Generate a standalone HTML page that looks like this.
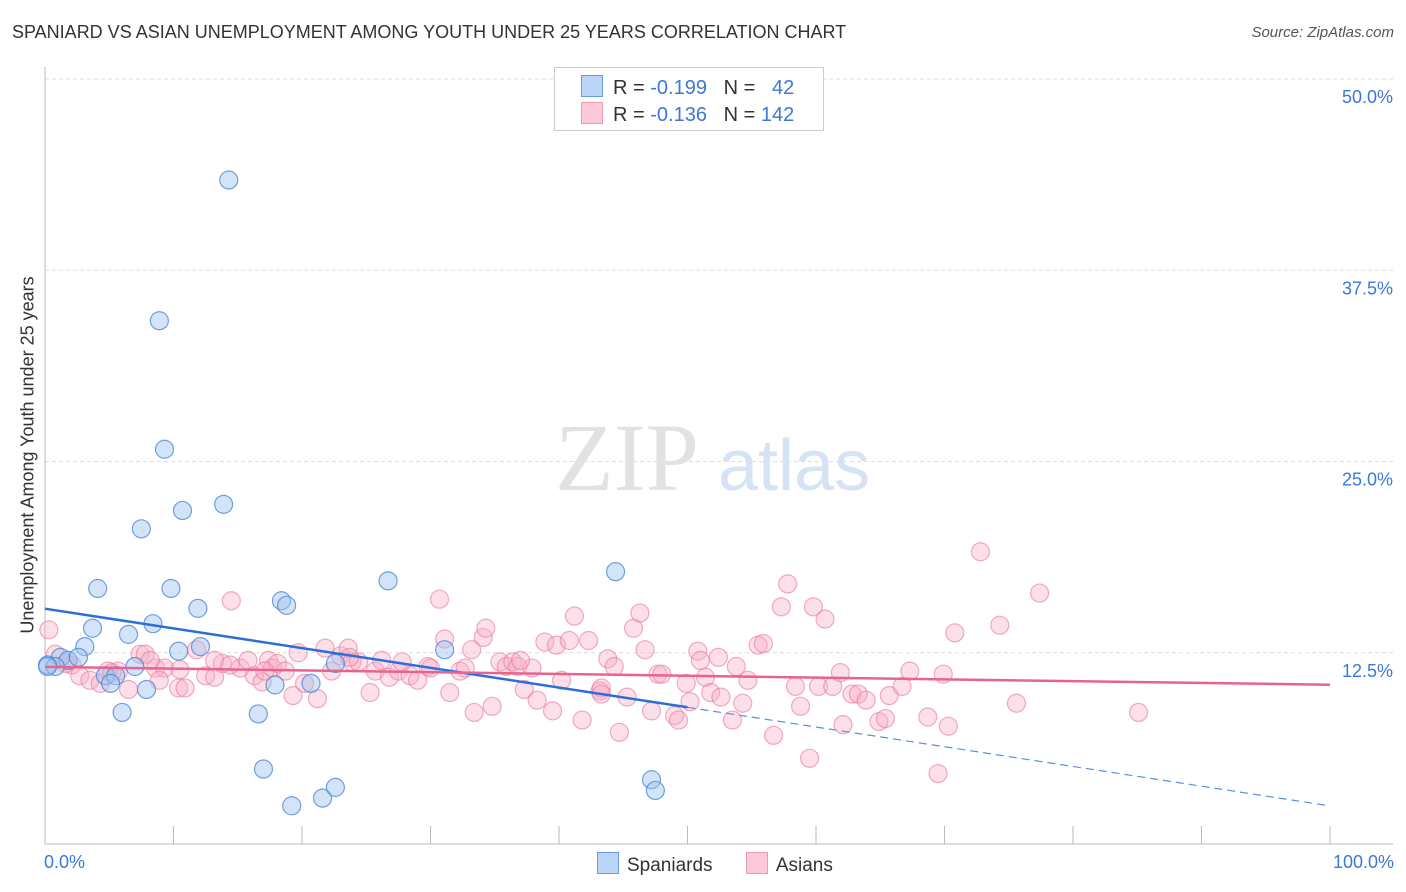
<!DOCTYPE html>
<html><head><meta charset="utf-8"><style>
body{margin:0;background:#fff;font-family:"Liberation Sans",sans-serif;}
#wrap{position:relative;width:1406px;height:892px;overflow:hidden;}
.t{position:absolute;white-space:nowrap;}
</style></head><body>
<div id="wrap">
<div class="t" style="left:12px;top:22px;font-size:18px;color:#333;">SPANIARD VS ASIAN UNEMPLOYMENT AMONG YOUTH UNDER 25 YEARS CORRELATION CHART</div>
<div class="t" style="right:12px;top:24px;font-size:15px;color:#555;font-style:italic;">Source: ZipAtlas.com</div>
<svg id="svg" width="1406" height="892" style="position:absolute;left:0;top:0"></svg>
</div>
<script>
const blueX=[14.3,8.9,9.3,7.5,10.7,13.9,4.1,9.8,11.9,18.4,18.8,26.7,44.4,8.4,3.7,6.5,12.1,3.1,10.4,1.2,1.8,2.6,0.2,0.8,4.7,5.5,7.0,5.1,17.9,20.7,22.6,31.1,7.9,6.0,16.6,17.0,19.2,21.6,22.6,47.2,47.5,0.2];
const blueY=[43.4,34.2,25.8,20.6,21.8,22.2,16.7,16.7,15.4,15.9,15.6,17.2,17.8,14.4,14.1,13.7,12.9,12.9,12.6,12.2,12.0,12.2,11.7,11.6,11.0,11.0,11.6,10.5,10.4,10.5,11.8,12.7,10.1,8.6,8.5,4.9,2.5,3.0,3.7,4.2,3.5,11.6];
const pinkX=[0.3,0.8,2.1,2.7,3.5,4.3,4.9,5.7,6.5,7.4,
7.8,8.6,9.3,8.9,10.4,10.9,11.8,12.5,13.2,13.8,
14.5,15.2,15.8,16.3,16.9,17.4,17.7,18.1,18.7,19.3,
19.7,20.2,21.2,21.8,22.3,23.0,23.6,23.9,24.4,25.3,
25.7,26.2,26.8,27.5,27.8,28.4,29.0,29.8,30.7,31.1,
31.5,32.3,32.7,33.4,34.1,34.3,34.8,35.4,35.9,36.4,
36.8,37.3,37.9,38.3,38.9,39.5,39.8,40.2,40.8,41.2,
41.8,42.3,43.2,43.3,43.8,44.3,44.7,45.3,45.8,46.3,
46.7,47.2,47.7,48.0,49.0,49.3,49.9,50.2,50.8,51.4,
51.8,52.4,52.6,53.5,53.8,54.3,54.7,55.5,55.9,56.7,
57.3,57.8,58.4,58.8,59.8,60.2,60.7,61.3,61.9,62.1,
62.8,63.3,63.9,64.9,65.4,65.7,66.7,67.3,68.7,69.5,
69.9,70.3,70.8,72.8,74.3,75.6,77.4,85.1,59.5,43.3,
33.2,23.7,10.5,1.6,5.2,17.1,30.0,8.2,13.2,14.4,
37.0,51.0];
const pinkY=[14.0,12.4,11.7,11.0,10.7,10.5,11.3,11.3,10.1,12.4,
12.4,11.5,11.5,10.7,10.2,10.2,12.7,11.0,10.9,11.8,
15.9,11.5,12.0,11.0,10.6,12.0,11.5,11.8,11.3,9.7,
12.5,10.5,9.5,12.8,11.3,12.3,12.8,11.9,11.9,9.9,
11.3,12.0,10.9,11.3,11.9,11.0,10.7,11.6,16.0,13.4,
9.9,11.3,11.5,8.6,13.5,14.1,9.0,11.9,11.6,11.9,
11.6,10.1,11.5,9.4,13.2,8.7,13.0,10.7,13.3,14.9,
8.1,13.3,10.0,10.2,12.1,11.6,7.3,9.6,14.1,15.1,
12.7,8.7,11.1,11.1,8.4,8.1,10.5,9.3,12.6,10.9,
9.9,12.2,9.6,8.1,11.6,9.2,10.7,13.0,13.1,7.1,
15.5,17.0,10.3,9.0,15.5,10.3,14.7,10.3,11.2,7.8,
9.8,9.8,9.4,8.0,8.2,9.7,10.3,11.3,8.3,4.6,
11.1,7.7,13.8,19.1,14.3,9.2,16.4,8.6,5.6,9.8,
12.7,12.2,11.4,11.8,11.2,11.3,11.5,12.0,12.0,11.7,
12.0,12.0];
const yTicks=[12.5,25.0,37.5,50.0];
const fits={blue:[15.38,-0.1289],pink:[11.58,-0.0117]};
const NS='http://www.w3.org/2000/svg';
const svg=document.getElementById('svg');
const X0=45,X1=1330,Y0=844,Y50=79;
const sx=v=>X0+(X1-X0)*v/100;
const sy=v=>Y0-(Y0-Y50)*v/50;
function mk(tag,at){const e=document.createElementNS(NS,tag);for(const k in at)e.setAttribute(k,at[k]);svg.appendChild(e);return e;}
yTicks.forEach(v=>{
 const g=mk('line',{x1:X0,x2:1393,y1:sy(v),y2:sy(v),stroke:'#ddd','stroke-dasharray':'4,3'});
 
 
 const t=mk('text',{x:1393,y:sy(v)+24,'text-anchor':'end','font-size':18,fill:'#3b78d8','font-family':'Liberation Sans, sans-serif'});
 t.textContent=v.toFixed(1)+'%';
 
 
});
const ax=mk('line',{x1:X0,x2:X0,y1:67,y2:Y0,stroke:'#bbb'});


const bx=mk('line',{x1:X0,x2:1393,y1:Y0,y2:Y0,stroke:'#bbb'});


for(let i=0;i<=10;i++){const tk=mk('line',{x1:sx(i*10),x2:sx(i*10),y1:Y0-18,y2:Y0,stroke:'#bbb'});
 
 }
const w1=mk('text',{x:555,y:490,'font-size':96,fill:'#e2e2e2','font-family':'Liberation Serif, serif'});w1.textContent='ZIP';


const w2=mk('text',{x:718,y:490,'font-size':72,fill:'#d6e3f5','font-family':'Liberation Sans, sans-serif'});w2.textContent='atlas';


pinkX.forEach((x,i)=>{const c=mk('circle',{cx:sx(x),cy:sy(pinkY[i]),r:9,fill:'rgba(248,175,198,0.4)',stroke:'rgba(232,120,155,0.6)','stroke-width':1.2});
 
 });
blueX.forEach((x,i)=>{const c=mk('circle',{cx:sx(x),cy:sy(blueY[i]),r:9,fill:'rgba(160,196,240,0.45)',stroke:'rgba(70,130,215,0.75)','stroke-width':1.2});
 
 });
const fb=fits.blue,fp=fits.pink;
const l1=mk('line',{x1:sx(0),y1:sy(fb[0]),x2:sx(50),y2:sy(fb[0]+fb[1]*50),stroke:'#2a6fd8','stroke-width':2.5});


const l2=mk('line',{x1:sx(50),y1:sy(fb[0]+fb[1]*50),x2:sx(100),y2:sy(fb[0]+fb[1]*100),stroke:'#5b8fdc','stroke-width':1.2,'stroke-dasharray':'8,5'});


const l3=mk('line',{x1:sx(0),y1:sy(fp[0]),x2:sx(100),y2:sy(fp[0]+fp[1]*100),stroke:'#e8648e','stroke-width':2.5});


</script>
<div class="t" style="left:28px;top:455px;font-size:18px;color:#333;transform:translate(-50%,-50%) rotate(-90deg);transform-origin:center;">Unemployment Among Youth under 25 years</div>
<div class="t" style="left:44px;top:852px;font-size:18px;color:#3b78d8;">0.0%</div>
<div class="t" style="right:12px;top:852px;font-size:18px;color:#3b78d8;">100.0%</div>
<div style="position:absolute;left:554px;top:67px;width:268px;height:62px;border:1px solid #ccc;background:#fff;font-size:20px;color:#333;">
 <div style="position:absolute;left:26px;top:7px;white-space:nowrap;"><span style="display:inline-block;width:20px;height:20px;background:#bcd4f6;border:1px solid #6a9de0;vertical-align:-3px;margin-right:10px;"></span>R = <span style="color:#3b78d8">-0.199</span>&nbsp;&nbsp;&nbsp;N = &nbsp;&nbsp;<span style="color:#3b78d8">42</span></div>
 <div style="position:absolute;left:26px;top:34px;white-space:nowrap;"><span style="display:inline-block;width:20px;height:20px;background:#fbc9d8;border:1px solid #ec9ab3;vertical-align:-3px;margin-right:10px;"></span>R = <span style="color:#3b78d8">-0.136</span>&nbsp;&nbsp;&nbsp;N = <span style="color:#3b78d8">142</span></div>
</div>
<div style="position:absolute;left:597px;top:852px;font-size:19px;color:#333;white-space:nowrap;">
 <span><span style="display:inline-block;width:20px;height:20px;background:#bcd4f6;border:1px solid #6a9de0;vertical-align:-3px;margin-right:8px;"></span>Spaniards</span>
 <span style="margin-left:28px;"><span style="display:inline-block;width:20px;height:20px;background:#fbc9d8;border:1px solid #ec9ab3;vertical-align:-3px;margin-right:8px;"></span>Asians</span>
</div>
</body></html>
